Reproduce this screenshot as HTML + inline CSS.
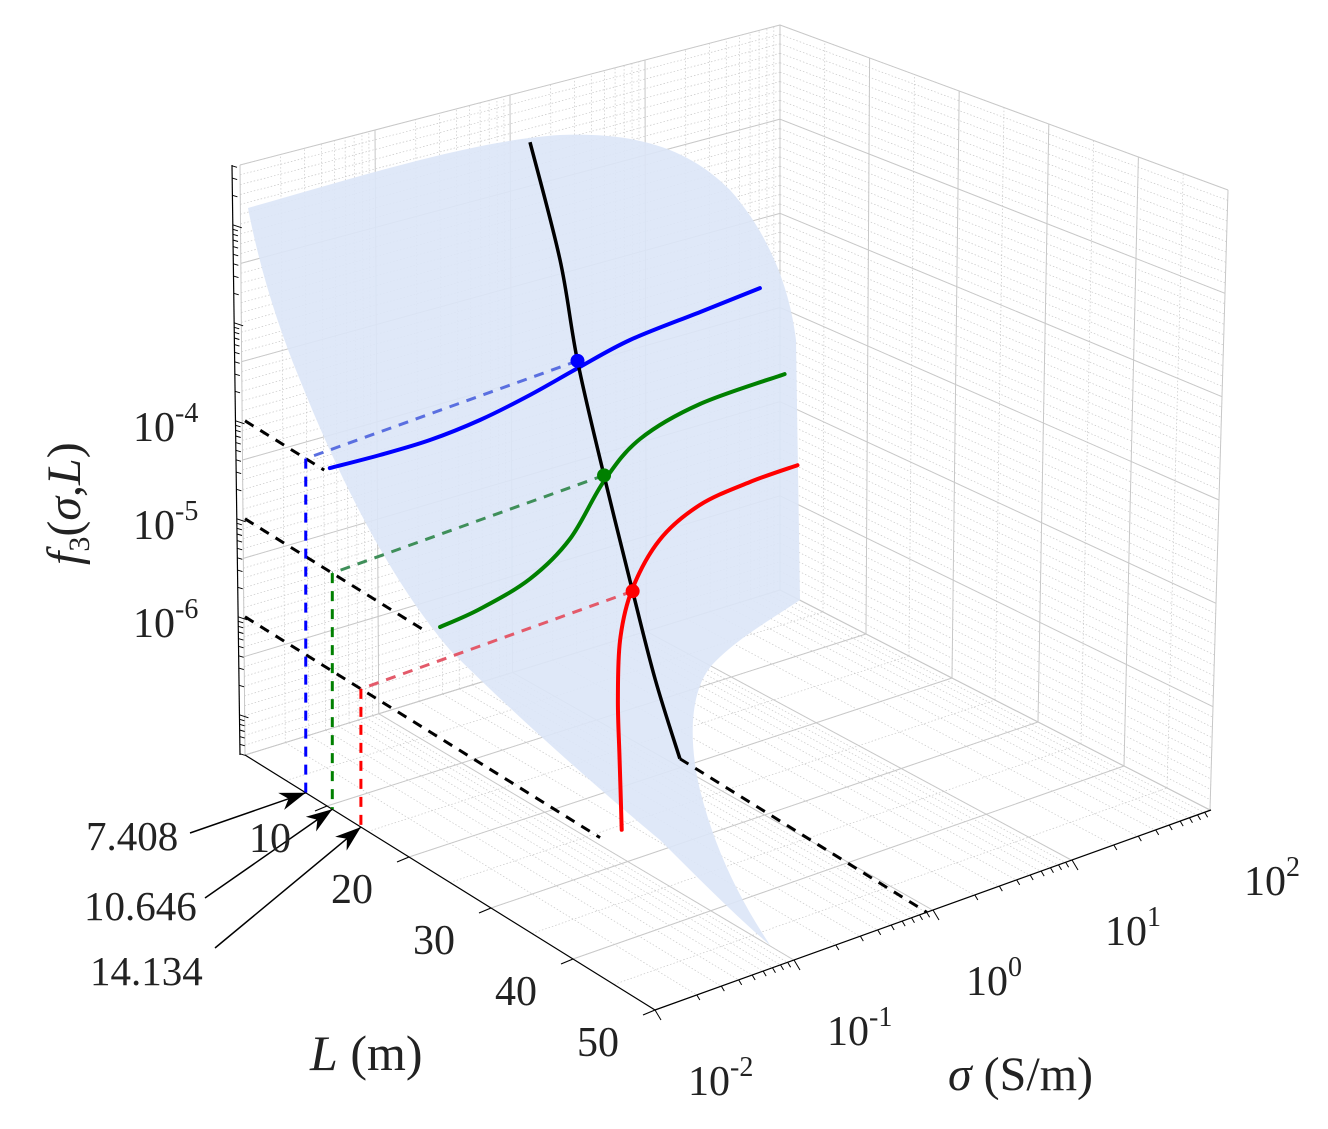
<!DOCTYPE html>
<html><head><meta charset="utf-8"><style>
html,body{margin:0;padding:0;background:#fff;}
svg{display:block;}
text{font-family:"Liberation Serif",serif;fill:#222;}
</style></head><body>
<svg id="chart" width="1328" height="1129" viewBox="0 0 1328 1129" xmlns="http://www.w3.org/2000/svg">
<g id="walls"></g>
<path fill="#dbe5f7" fill-opacity="0.9" d="M248,208 C380,170 480,140 560,135 C640,132 690,150 730,190 C770,235 790,290 796,340 L800,600 C770,620 735,640 712,665 C690,690 688,740 700,790 C715,850 740,900 770,945 C740,920 700,880 660,840 C600,790 520,720 450,650 C390,580 340,480 300,380 C275,320 258,260 248,208 Z"/>
<g id="marks"></g>
<g id="labels"></g>
</svg>
<script>
// ---- data ----
const zTicks = [-4, -5, -6];
const zTickLabels = ["-4", "-5", "-6"];
const lTicks = [10, 20, 30, 40, 50];
const sigmaTicks = [-2, -1, 0, 1, 2];
const sigmaTickLabels = ["-2", "-1", "0", "1", "2"];
const blueL = [9.66, 10.28, 10.65, 10.4, 9.53, 8.32, 7.17, 6.82, 6.52];
const blueLogSigma = [-1.96, -1.635, -1.297, -0.923, -0.512, -0.095, 0.347, 0.871, 1.32];
const blueZ = -4;
const greenL = [22.16, 21.7, 20.2, 17.03, 11.35, 7.74, 6.07, 6.14];
const greenLogSigma = [-1.904, -1.59, -1.142, -0.667, -0.087, 0.385, 0.915, 1.52];
const greenZ = -5;
const redL = [43.3, 34.5, 27.0, 19.64, 13.96, 9.0, 6.44, 5.82, 5.85];
const redLogSigma = [-1.844, -1.34, -0.91, -0.46, -0.04, 0.45, 0.89, 1.29, 1.63];
const redZ = -6;
const blackLogSigma = -0.045;
const blackL = [1.62, 5.28, 7.408, 10.646, 14.134, 16.9, 19.9];
const blackZ = [-2.07, -3.08, -4, -5, -6, -6.76, -7.41];
const markerL = [7.408, 10.646, 14.134];
const markerZ = [-4, -5, -6];
const markerLabels = ["7.408", "10.646", "14.134"];

// ---- projection ----
const ZMIN = -7.41;
function P(logS, L, z){
  const s = logS + 2;
  return [245 + 8.2*L + 139*s, 755 + 5.1*L - 50*s - 98*(z - ZMIN)];
}
const NS = "http://www.w3.org/2000/svg";
function el(tag, attrs, parent){
  const e = document.createElementNS(NS, tag);
  for (const k in attrs) e.setAttribute(k, attrs[k]);
  parent.appendChild(e); return e;
}
function smooth(pts){
  let d = "M" + pts[0][0].toFixed(1) + "," + pts[0][1].toFixed(1);
  for (let i=0;i<pts.length-1;i++){
    const p0=pts[Math.max(0,i-1)], p1=pts[i], p2=pts[i+1], p3=pts[Math.min(pts.length-1,i+2)];
    const c1=[p1[0]+(p2[0]-p0[0])/6, p1[1]+(p2[1]-p0[1])/6];
    const c2=[p2[0]-(p3[0]-p1[0])/6, p2[1]-(p3[1]-p1[1])/6];
    d += " C"+c1[0].toFixed(1)+","+c1[1].toFixed(1)+" "+c2[0].toFixed(1)+","+c2[1].toFixed(1)+" "+p2[0].toFixed(1)+","+p2[1].toFixed(1);
  }
  return d;
}
const walls = document.getElementById('walls');
const marks = document.getElementById('marks');
const labels = document.getElementById('labels');

// ---- box walls (screen quads) ----
function quadPt(q,u,v){
  const a=q[0],b=q[1],c=q[2],d=q[3];
  const x=(1-u)*(1-v)*a[0]+u*(1-v)*b[0]+u*v*c[0]+(1-u)*v*d[0];
  const y=(1-u)*(1-v)*a[1]+u*(1-v)*b[1]+u*v*c[1]+(1-u)*v*d[1];
  return [x,y];
}
const backWall = [[245,755],[780,590],[780,25],[240,165]];
const sideWall = [[780,590],[1210,810],[1228,190],[780,25]];
const floorQ = [[245,755],[655,1010],[1210,810],[780,590]];
const logFr = [];
for (let dcd=0; dcd<4; dcd++) for (let m=1;m<10;m++) logFr.push((dcd+Math.log10(m))/4);
logFr.push(1);
function gridLines(q, uList, vList, major){
  uList.forEach(u=>{const p=quadPt(q,u,0), r=quadPt(q,u,1);
    const ln=el('line',{x1:p[0],y1:p[1],x2:r[0],y2:r[1],stroke:'#c8c8c8','stroke-width':major?1:0.7,'stroke-dasharray':major?'':'1.5,2'},walls);
    
    });
  vList.forEach(v=>{const p=quadPt(q,0,v), r=quadPt(q,1,v);
    const ln=el('line',{x1:p[0],y1:p[1],x2:r[0],y2:r[1],stroke:'#c8c8c8','stroke-width':major?1:0.7,'stroke-dasharray':major?'':'1.5,2'},walls);
    
    });
}
const zFr=[]; for(let i=0;i<=60;i++) zFr.push(i/60);
const zMaj=[]; for(let i=0;i<=6;i++) zMaj.push(i/6);
const lFr=[]; for(let i=0;i<=10;i++) lFr.push(i/10);
const lMaj=[0,0.2,0.4,0.6,0.8,1];
const sMaj=[0,0.25,0.5,0.75,1];
gridLines(backWall, logFr, zFr, false);
gridLines(backWall, sMaj, zMaj, true);
gridLines(sideWall, lFr, zFr, false);
gridLines(sideWall, lMaj, zMaj, true);
gridLines(floorQ, lFr, logFr, false);
gridLines(floorQ, lMaj, sMaj, true);

// ---- axes ----
function line(x1,y1,x2,y2,attrs,name){
  const a=Object.assign({x1:x1,y1:y1,x2:x2,y2:y2,stroke:'#000','stroke-width':1.2},attrs||{});
  const l=el('line',a,marks);
  
  
  return l;
}
const A=P(-2,0,ZMIN), B=P(-2,50,ZMIN), C=P(2,50,ZMIN);
line(A[0],A[1],B[0],B[1],{},'l-axis-line');
line(B[0],B[1],C[0],C[1],{},'sigma-axis-line');
line(240,755,232,165,{},'z-axis-line');
for (let dcd=-8; dcd<=-1; dcd++) for (let m=1;m<10;m++){
  const z=dcd+Math.log10(m); if(z<ZMIN||z>-1.35) continue;
  const y=755-98*(z-ZMIN); const x=240-(755-y)*8/590;
  line(x,y,x+(m===1?9:5),y+(m===1?3:1.5),{'stroke-width':1},'z-tick');
}
lTicks.forEach(L=>{const p=P(-2,L,ZMIN); line(p[0],p[1],p[0]-12,p[1]+5,{},'l-tick');});
for (let dcd=-2; dcd<2; dcd++) for (let m=1;m<10;m++){
  const p=P(dcd+Math.log10(m),50,ZMIN); line(p[0],p[1],p[0]+(m===1?6:3),p[1]+(m===1?10:5),{'stroke-width':1},'sigma-tick');
}

// ---- dashed guides ----
const colors=['#0000ff','#008000','#ff0000'];
const softColors=['#5a6fe0','#3f8f5a','#e35a6a'];
zTicks.forEach((z,i)=>{
  const startL=[blueL,greenL,redL][i][0];
  const p0=P(-2,0,z), p1=P(-2,startL,z);
  line(p0[0],p0[1],p1[0],p1[1],{'stroke-width':3,'stroke-dasharray':'10,8'},'z-guide-dashed');
});
{const f=P(blackLogSigma,blackL[blackL.length-1],ZMIN), g=P(blackLogSigma,50,ZMIN);
 line(f[0],f[1],g[0],g[1],{'stroke-width':3,'stroke-dasharray':'10,8'},'black-foot-dashed');}
markerL.forEach((L,i)=>{
  const d=P(blackLogSigma,L,markerZ[i]), e=P(-2,L,markerZ[i]), f=P(-2,L,ZMIN);
  line(d[0],d[1],e[0],e[1],{stroke:softColors[i],'stroke-width':3,'stroke-dasharray':'10,8'},'marker-horizontal-dashed');
  line(e[0],e[1],f[0],f[1],{stroke:colors[i],'stroke-width':3,'stroke-dasharray':'10,8'},'marker-vertical-dashed');
});

// ---- curves ----
function curve(Ls, Ss, z, color, w, name){
  const pts=Ls.map((L,i)=>P(Ss[i],L,z));
  const p=el('path',{d:smooth(pts),fill:'none',stroke:color,'stroke-width':w,'stroke-linecap':'round'},marks);
  
  
}
curve(blueL,blueLogSigma,blueZ,colors[0],4,'contour-1e-4');
curve(greenL,greenLogSigma,greenZ,colors[1],4,'contour-1e-5');
curve(redL,redLogSigma,redZ,colors[2],4,'contour-1e-6');
{
  const pts=blackL.map((L,i)=>P(blackLogSigma,L,blackZ[i]));
  const p=el('path',{d:smooth(pts),fill:'none',stroke:'#000','stroke-width':3.5},marks);
  
  
}
markerL.forEach((L,i)=>{
  const d=P(blackLogSigma,L,markerZ[i]);
  const c=el('circle',{cx:d[0],cy:d[1],r:7,fill:colors[i]},marks);
  
  
});

// ---- labels ----
function txt(x,y,s,size,attrs,name){
  const t=el('text',Object.assign({x:x,y:y,'font-size':size},attrs||{}),labels);
  t.innerHTML=s;
  
  
  return t;
}
zTicks.forEach((z,i)=>{
  const y=755-98*(z-ZMIN);
  txt(133,y+20,'10<tspan dy="-19" font-size="28">'+zTickLabels[i]+'</tspan>',42,{},'z-tick-label');
});
lTicks.forEach(L=>{
  const p=P(-2,L,ZMIN);
  txt(p[0]-78,p[1]+46,String(L),42,{},'l-tick-label');
});
sigmaTicks.forEach((s,i)=>{
  const p=P(s,50,ZMIN);
  txt(p[0]+33,p[1]+85,'10<tspan dy="-19" font-size="28">'+sigmaTickLabels[i]+'</tspan>',42,{},'sigma-tick-label');
});
txt(310,1070,'<tspan font-style="italic">L</tspan> (m)',50,{},'l-axis-title');
txt(948,1090,'<tspan font-style="italic">σ</tspan> (S/m)',48,{},'sigma-axis-title');
txt(0,0,'<tspan font-style="italic">f</tspan><tspan font-size="30" dy="9">3</tspan><tspan dy="-9">(</tspan><tspan font-style="italic">σ</tspan>,<tspan font-style="italic">L</tspan>)',48,{transform:'translate(80,565) rotate(-90)'},'z-axis-title');

const labelPos=[[86,850],[84,920],[90,985]];
const arrowStart=[[190,833],[205,898],[215,948]];
markerL.forEach((L,i)=>{
  txt(labelPos[i][0],labelPos[i][1],markerLabels[i],41,{},'marker-value-label');
  const f=P(-2,L,ZMIN);
  const s=arrowStart[i];
  line(s[0],s[1],f[0],f[1],{'stroke-width':1.5},'annotation-arrow');
  const ang=Math.atan2(f[1]-s[1],f[0]-s[0]);
  const hl=26, hw=9;
  const bx=f[0]-hl*Math.cos(ang), by=f[1]-hl*Math.sin(ang);
  const pts=[[f[0],f[1]],[bx+hw*Math.sin(ang),by-hw*Math.cos(ang)],[f[0]-hl*0.7*Math.cos(ang),f[1]-hl*0.7*Math.sin(ang)],[bx-hw*Math.sin(ang),by+hw*Math.cos(ang)]];
  const h=el('polygon',{points:pts.map(p=>p.join(',')).join(' '),fill:'#000'},labels);
  
  
});
</script>
</body></html>
